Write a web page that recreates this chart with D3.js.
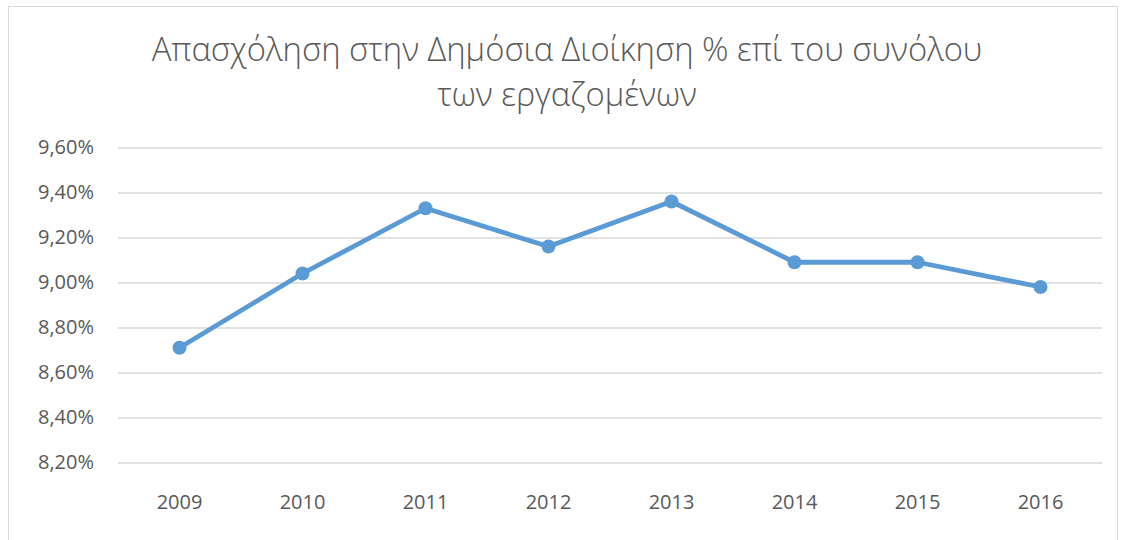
<!doctype html>
<html>
<head>
<meta charset="utf-8">
<script src="https://d3js.org/d3.v7.min.js"></script>
<style>
  body { margin: 0; background: #fff; }
  svg text { font-family: "Open Sans", sans-serif; fill: #595959; }
</style>
</head>
<body>
<svg id="chart" width="1124" height="540"></svg>
<script>
// chart data
const years = ["2009", "2010", "2011", "2012", "2013", "2014", "2015", "2016"];
const shares = [8.71, 9.04, 9.33, 9.16, 9.36, 9.09, 9.09, 8.98];
const yTicks = [8.2, 8.4, 8.6, 8.8, 9.0, 9.2, 9.4, 9.6];
const titleLines = ["Απασχόληση στην Δημόσια Διοίκηση % επί του συνόλου", "των εργαζομένων"];

const svg = d3.select("#chart");

// outer frame of the chart
svg.append("rect")
  .attr("x", 8.5).attr("y", 6.5)
  .attr("width", 1109).attr("height", 545)
  .attr("fill", "none").attr("stroke", "#d9d9d9");

const plotL = 118, plotR = 1102, plotT = 147.5, plotB = 462.5;

const x = d3.scaleBand().domain(years).range([plotL, plotR]);
const y = d3.scaleLinear().domain([8.2, 9.6]).range([plotB, plotT]);

const gr = d3.formatLocale({decimal: ",", thousands: ".", grouping: [3], currency: ["", "€"]});
const fmt = d => gr.format(".2f")(d) + "%";

// gridlines + y labels
const yAxis = svg.append("g")
  .attr("transform", "translate(" + plotL + ",0)")
  .call(d3.axisLeft(y).tickValues(yTicks).tickFormat(fmt)
        .tickSize(-(plotR - plotL)).tickPadding(24));
yAxis.select(".domain").remove();
yAxis.selectAll("line").attr("stroke", "#d9d9d9").attr("stroke-width", 1.3);
yAxis.selectAll("text").style("font-size", "20px").attr("fill", "#595959");

// x labels
const xAxis = svg.append("g")
  .attr("transform", "translate(0," + plotB + ")")
  .call(d3.axisBottom(x).tickSize(0).tickPadding(32));
xAxis.select(".domain").remove();
xAxis.selectAll("text").style("font-size", "20px").attr("fill", "#595959");

const pts = years.map((d, i) => [x(d) + x.bandwidth() / 2, y(shares[i])]);

svg.append("path")
  .attr("d", d3.line()(pts))
  .attr("fill", "none")
  .attr("stroke", "#5b9bd5")
  .attr("stroke-width", 4.8)
  .attr("stroke-linejoin", "round");

svg.selectAll(".dot")
  .data(pts)
  .enter().append("circle")
  .attr("cx", d => d[0])
  .attr("cy", d => d[1])
  .attr("r", 7)
  .attr("fill", "#5b9bd5");

// title
const title = svg.selectAll(".title")
  .data(titleLines)
  .enter().append("text")
  .attr("x", 567)
  .attr("y", (d, i) => 61 + i * 45)
  .attr("text-anchor", "middle")
  .style("font-size", "30px")
  .style("font-weight", 300)
  .text(d => d);
// scale first line to the reference width
const w0 = title.node().getComputedTextLength();
title.style("font-size", (30 * 831 / w0) + "px");
</script>
</body>
</html>
